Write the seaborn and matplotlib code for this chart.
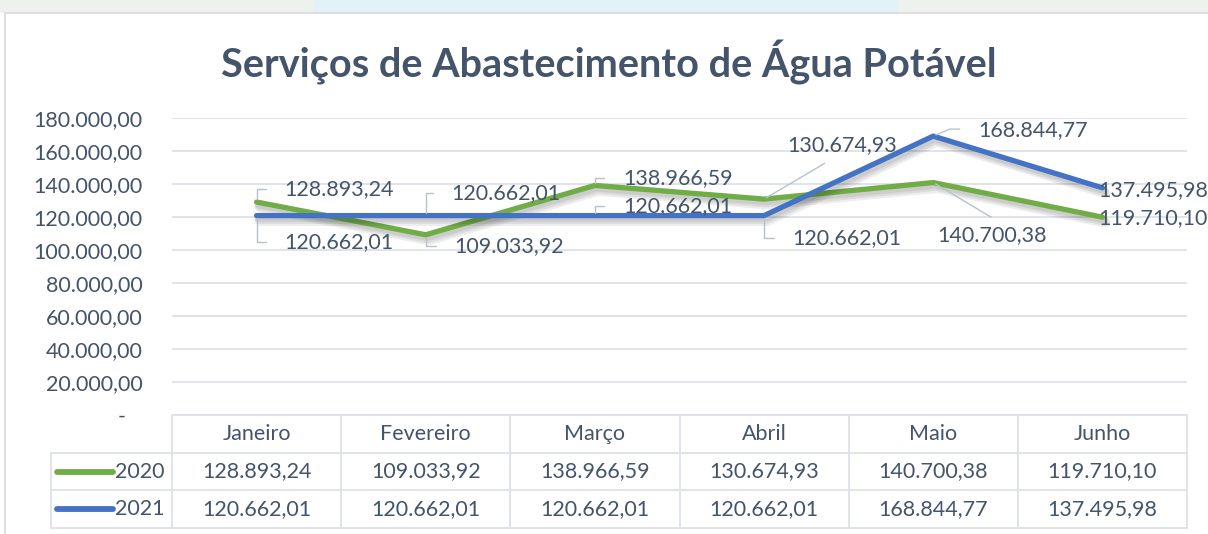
import matplotlib
matplotlib.use("Agg")
import matplotlib.pyplot as plt
import matplotlib.patheffects as pe
from matplotlib.patches import Rectangle
import pandas as pd
import seaborn as sns

# --- data ---------------------------------------------------------
meses = ["Janeiro", "Fevereiro", "Março", "Abril", "Maio", "Junho"]
anos = ["2020", "2021"]
valores_2020 = [128893.24, 109033.92, 138966.59, 130674.93, 140700.38, 119710.10]
valores_2021 = [120662.01, 120662.01, 120662.01, 120662.01, 168844.77, 137495.98]
yticks = [0, 20000, 40000, 60000, 80000, 100000, 120000, 140000, 160000, 180000]

cores = {"2020": "#70AD47", "2021": "#4472C4"}
txt = "#44546A"
grade = "#DDE2E8"

df = pd.DataFrame({
    "mes": meses * 2,
    "ano": ["2020"] * 6 + ["2021"] * 6,
    "valor": valores_2020 + valores_2021,
})


def br(v):
    s = f"{v:,.2f}"
    return s.replace(",", "X").replace(".", ",").replace("X", ".")


sns.set_theme(style="white")
plt.rcParams["font.family"] = ["Lato", "DejaVu Sans"]

W, H = 1208, 534
fig = plt.figure(figsize=(W / 100, H / 100), dpi=100)
fig.patch.set_facecolor("white")

# faded background strip at the top (watermark behind the chart)
fig.add_artist(Rectangle((0, 1 - 13 / H), 1, 13 / H, transform=fig.transFigure,
                         facecolor="#EDF2EC", edgecolor="none", zorder=0))
fig.add_artist(Rectangle((314 / W, 1 - 13 / H), (898 - 314) / W, 13 / H,
                         transform=fig.transFigure, facecolor="#E3F1F8",
                         edgecolor="none", zorder=0))
# chart area
fig.add_artist(Rectangle((5 / W, -0.05), 1, 1.05 - 13 / H, transform=fig.transFigure,
                         facecolor="white", edgecolor="#D9D9D9", lw=1.2, zorder=0))

# --- line plot ----------------------------------------------------
x0, x1 = 172, 1187
ax = fig.add_axes([x0 / W, 1 - 414.7 / H, (x1 - x0) / W, 297 / H])
ax.set_facecolor("none")
sns.lineplot(data=df, x="mes", y="valor", hue="ano", palette=cores, sort=False,
             linewidth=3.8, solid_capstyle="round", legend=False, ax=ax)
sombra = [pe.SimpleLineShadow(offset=(o * 0.6, -o), shadow_color="black",
                              alpha=0.07, linewidth=lw)
          for o, lw in [(2, 5), (3, 6), (4, 7)]]
for ln in ax.lines:
    ln.set_path_effects(sombra + [pe.Normal()])
ax.set_xlim(-0.5, 5.5)
ax.set_ylim(0, 180000)
ax.set_yticks(yticks)
ax.set_yticklabels(["-   " if v == 0 else br(v) for v in yticks])
ax.set_xticks([])
ax.set_xlabel("")
ax.set_ylabel("")
ax.yaxis.grid(True, color=grade, lw=1.3)
ax.tick_params(axis="y", length=0, pad=21, labelsize=15.5, labelcolor=txt)
for s in ax.spines.values():
    s.set_visible(False)

# data labels: (series, index, dx, dy, leader style, relpos)
rotulos = [
    ("2020", 0, 28, 13, "bracket_up", None),
    ("2021", 0, 28, -26, "bracket_dn", None),
    ("2021", 1, 26, 23, "bracket_up", None),
    ("2020", 1, 29, -11, "bracket_dn", None),
    ("2020", 2, 28, 7, "bracket_up", None),
    ("2021", 2, 28, 10, "bracket_up", None),
    ("2020", 3, 23, 54, "straight", (0.47, 0.0)),
    ("2021", 3, 28, -22, "bracket_dn", None),
    ("2021", 4, 45, 6, "angle", None),
    ("2020", 4, 4, -53, "straight", (0.62, 1.0)),
    ("2021", 5, -4, -2, None, None),
    ("2020", 5, -4, -1, None, None),
]
serie = {"2020": valores_2020, "2021": valores_2021}
leader = "#B7C1CD"
for ano, i, dx, dy, estilo, rel in rotulos:
    v = serie[ano][i]
    kw = dict(xy=(i, v), xytext=(dx, dy), textcoords="offset pixels",
              ha="left", va="center", fontsize=15.5, color=txt, zorder=5)
    if estilo in ("bracket_up", "bracket_dn"):
        kw["arrowprops"] = dict(arrowstyle="-", color=leader, lw=1,
                                connectionstyle="angle,angleA=0,angleB=90,rad=0",
                                relpos=(0, 0.5), shrinkA=11, shrinkB=2)
    elif estilo == "angle":
        kw["arrowprops"] = dict(arrowstyle="-", color=leader, lw=1,
                                connectionstyle="angle,angleA=0,angleB=23,rad=0",
                                relpos=(0, 0.55), shrinkA=11, shrinkB=2)
    elif estilo == "straight":
        kw["arrowprops"] = dict(arrowstyle="-", color=leader, lw=1,
                                relpos=rel, shrinkA=7, shrinkB=2)
    ax.annotate(br(v), **kw)

# --- data table ---------------------------------------------------
tb = fig.add_axes([x0 / W, 1 - 528 / H, (x1 - x0) / W, 113 / H])
tb.set_xlim(-0.5, 5.5)
tb.set_ylim(0, 3)
tb.axis("off")
col = (x1 - x0) / 6
xl = (51 - x0) / col - 0.5
kw_l = dict(color=grade, lw=1.3, clip_on=False)
tb.plot([-0.5, 5.5], [3, 3], **kw_l)
for yy in [2, 1, 0]:
    tb.plot([xl, 5.5], [yy, yy], **kw_l)
for k in range(7):
    tb.plot([k - 0.5, k - 0.5], [0, 3], **kw_l)
tb.plot([xl, xl], [0, 2], **kw_l)

for i, m in enumerate(meses):
    tb.text(i, 2.5, m, ha="center", va="center", fontsize=15.5, color=txt)
for r, ano in enumerate(anos):
    yc = 1.5 - r
    for i, v in enumerate(serie[ano]):
        tb.text(i, yc, br(v), ha="center", va="center", fontsize=15.5, color=txt)
    tb.plot([(57 - x0) / col - 0.5, (113 - x0) / col - 0.5], [yc, yc],
            color=cores[ano], lw=4.2, solid_capstyle="round", clip_on=False)
    tb.text((164 - x0) / col - 0.5, yc, ano, ha="right", va="center",
            fontsize=15.5, color=txt)

fig.text(609 / W, 1 - 62 / H, "Serviços de Abastecimento de Água Potável",
         ha="center", va="center", fontsize=28.5, fontweight="bold", color=txt)

fig.savefig("out.png", dpi=100)
